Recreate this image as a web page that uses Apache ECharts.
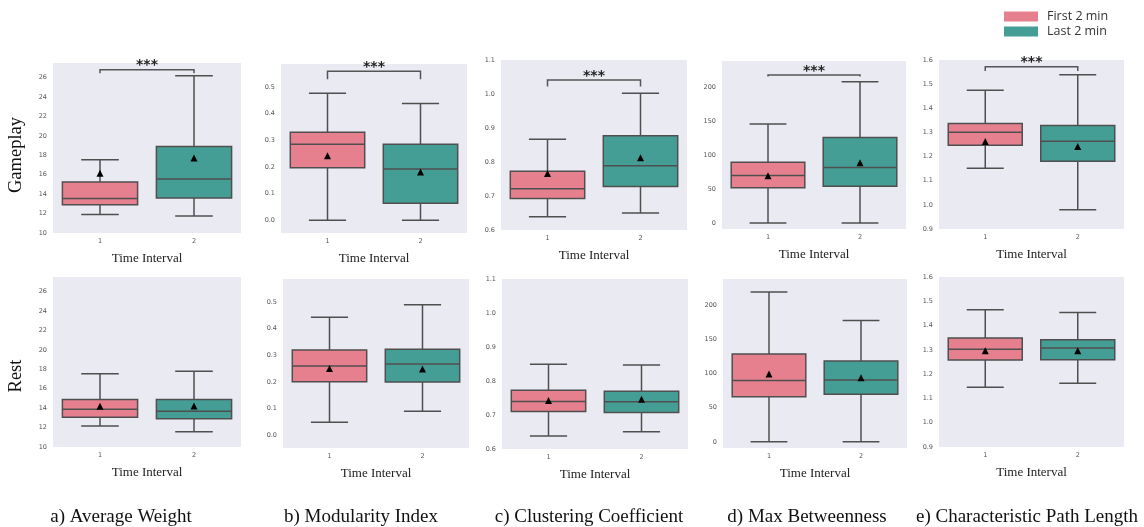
<!DOCTYPE html>
<html><head><meta charset="utf-8">
<script src="https://cdn.jsdelivr.net/npm/echarts@6/dist/echarts.min.js"></script>
<style>html,body{margin:0;padding:0;background:#fff}#chart{width:1144px;height:527px}</style>
</head><body><div id="chart"></div>
<script>
const categories = ['1', '2'];
const legendNames = ['First 2 min', 'Last 2 min'];
const rowNames = ['Gameplay', 'Rest'];
const panelTitles = ['a) Average Weight', 'b) Modularity Index', 'c) Clustering Coefficient', 'd) Max Betweenness', 'e) Characteristic Path Length'];
const axisTitle = 'Time Interval';
const sigText = '***';

// [whisker low, Q1, median, Q3, whisker high] for time intervals 1 and 2
const gameplayAvgWeight = [[11.9, 12.9, 13.55, 15.25, 17.55], [11.75, 13.6, 15.57, 18.9, 26.2]];
const gameplayAvgWeightMean = [16.15, 17.73];
const gameplayModularity = [[0, 0.1975, 0.285, 0.331, 0.4775], [0, 0.064, 0.1925, 0.285, 0.439]];
const gameplayModularityMean = [0.2425, 0.181];
const gameplayClustering = [[0.639, 0.693, 0.7216, 0.7725, 0.8667], [0.65, 0.728, 0.789, 0.8775, 1.002]];
const gameplayClusteringMean = [0.766, 0.8127];
const gameplayBetweenness = [[0, 51.8, 69.9, 89.5, 145.7], [0, 53.8, 81.7, 125.7, 207.8]];
const gameplayBetweennessMean = [69.4, 88.5];
const gameplayPathLength = [[1.152, 1.2473, 1.301, 1.3368, 1.4746], [0.98, 1.1811, 1.2638, 1.3286, 1.539]];
const gameplayPathLengthMean = [1.2624, 1.2417];

const restAvgWeight = [[12.15, 13.07, 13.89, 14.88, 17.54], [11.57, 12.9, 13.68, 14.88, 17.81]];
const restAvgWeightMean = [14.2, 14.23];
const restModularity = [[0.049, 0.201, 0.26, 0.32, 0.4435], [0.0905, 0.1997, 0.2676, 0.323, 0.49]];
const restModularityMean = [0.251, 0.2487];
const restClustering = [[0.638, 0.71, 0.74, 0.7725, 0.849], [0.651, 0.707, 0.739, 0.7696, 0.847]];
const restClusteringMean = [0.743, 0.746];
const restBetweenness = [[0, 65.9, 89.8, 128.8, 219.5], [0, 69.8, 90.7, 118.5, 177.6]];
const restBetweennessMean = [99.5, 93.7];
const restPathLength = [[1.146, 1.2582, 1.302, 1.3485, 1.4647], [1.1625, 1.2596, 1.3074, 1.3416, 1.4537]];
const restPathLengthMean = [1.2965, 1.2965];

// significance bracket (gameplay row): level and end-tick level
const sigLevel = [26.8, 0.56, 1.041, 218, 1.5725];
const sigEnd = [26.45, 0.53, 1.022, 215.5, 1.5545];

// y axis ranges per column
const yMin = [10, -0.048, 0.6, -9, 0.9];
const yMax = [27.5, 0.587, 1.1, 238.5, 1.6];
const yStep = [2, 0.1, 0.1, 50, 0.1];
const yDecimals = [0, 1, 1, 0, 1];

const boxes = [gameplayAvgWeight, gameplayModularity, gameplayClustering, gameplayBetweenness, gameplayPathLength,
               restAvgWeight, restModularity, restClustering, restBetweenness, restPathLength];
const means = [gameplayAvgWeightMean, gameplayModularityMean, gameplayClusteringMean, gameplayBetweennessMean, gameplayPathLengthMean,
               restAvgWeightMean, restModularityMean, restClusteringMean, restBetweennessMean, restPathLengthMean];

// layout
const gridRects = [
  [53, 63, 188, 170], [281, 64, 186, 169], [501, 60, 186, 170], [722, 61, 184, 168], [939, 60, 185, 169],
  [53, 277, 188, 170], [283, 279, 186, 169], [502, 279, 186, 170], [723, 279, 184, 169], [939, 277, 185, 170]
];
const captionX = [121, 361, 589, 807, 1027];
const COLORS = ['#E6808F', '#459E96'];
const EDGE = '#4f4f4f';

function renderBox(params, api) {
  const i = api.value(0);
  const lo = api.coord([i, api.value(1)]);
  const q1 = api.coord([i, api.value(2)]);
  const md = api.coord([i, api.value(3)]);
  const q3 = api.coord([i, api.value(4)]);
  const hi = api.coord([i, api.value(5)]);
  const w = api.size([1, 0])[0] * 0.8;
  const cx = lo[0];
  const ls = {stroke: EDGE, lineWidth: 1.5};
  return {type: 'group', children: [
    {type: 'line', shape: {x1: cx, y1: q3[1], x2: cx, y2: hi[1]}, style: ls},
    {type: 'line', shape: {x1: cx, y1: q1[1], x2: cx, y2: lo[1]}, style: ls},
    {type: 'line', shape: {x1: cx - w / 4, y1: hi[1], x2: cx + w / 4, y2: hi[1]}, style: ls},
    {type: 'line', shape: {x1: cx - w / 4, y1: lo[1], x2: cx + w / 4, y2: lo[1]}, style: ls},
    {type: 'rect', shape: {x: cx - w / 2, y: q3[1], width: w, height: q1[1] - q3[1]}, style: {fill: COLORS[i], stroke: EDGE, lineWidth: 1.5}},
    {type: 'line', shape: {x1: cx - w / 2, y1: md[1], x2: cx + w / 2, y2: md[1]}, style: ls}
  ]};
}

function renderSig(params, api) {
  const a = api.coord([api.value(0), api.value(2)]);
  const b = api.coord([api.value(1), api.value(2)]);
  const ae = api.coord([api.value(0), api.value(3)]);
  const be = api.coord([api.value(1), api.value(3)]);
  return {type: 'group', children: [
    {type: 'polyline', shape: {points: [[ae[0], ae[1]], [a[0], a[1]], [b[0], b[1]], [be[0], be[1]]]},
     style: {stroke: '#555', lineWidth: 1.5, fill: null}},
    {type: 'text', x: (a[0] + b[0]) / 2, y: a[1] + 3,
     style: {text: sigText, font: 'bold 14px "DejaVu Sans"', fill: '#222', align: 'center', verticalAlign: 'bottom'}}
  ]};
}

const grid = [], xAxis = [], yAxis = [], series = [];
gridRects.forEach((r, k) => {
  const col = k % 5;
  grid.push({left: r[0], top: r[1], width: r[2], height: r[3], show: true, backgroundColor: '#EAEAF2', borderWidth: 0});
  xAxis.push({gridIndex: k, type: 'category', data: categories,
    axisLine: {show: false}, axisTick: {show: false}, splitLine: {show: false},
    axisLabel: {fontSize: 6.5, color: '#555', margin: 5, fontFamily: 'DejaVu Sans'},
    name: axisTitle, nameLocation: 'middle', nameGap: 19,
    nameTextStyle: {fontFamily: 'Liberation Serif', fontSize: 13, color: '#222'}});
  const step = yStep[col], dec = yDecimals[col];
  yAxis.push({gridIndex: k, type: 'value', min: yMin[col], max: yMax[col], minInterval: step, maxInterval: step,
    axisLine: {show: false}, axisTick: {show: false}, splitLine: {show: false},
    axisLabel: {fontSize: 6.5, color: '#555', margin: 6, fontFamily: 'DejaVu Sans',
      formatter: v => { const q = v / step; if (Math.abs(q - Math.round(q)) > 1e-6) return ''; return (Math.round(q) * step).toFixed(dec); }}});
  series.push({type: 'custom', xAxisIndex: k, yAxisIndex: k, renderItem: renderBox, silent: true,
    encode: {x: 0, y: [1, 2, 3, 4, 5]},
    data: boxes[k].map((b, i) => [i].concat(b))});
  series.push({type: 'scatter', xAxisIndex: k, yAxisIndex: k, symbol: 'triangle', symbolSize: 7, silent: true, z: 5,
    itemStyle: {color: '#000', opacity: 1}, data: means[k].map((m, i) => [i, m])});
  if (k < 5) {
    series.push({type: 'custom', xAxisIndex: k, yAxisIndex: k, renderItem: renderSig, silent: true, clip: false,
      encode: {x: [0, 1], y: [2, 3]}, data: [[0, 1, sigLevel[col], sigEnd[col]]]});
  }
});
legendNames.forEach((n, i) => series.push({type: 'scatter', name: n, data: [], xAxisIndex: 0, yAxisIndex: 0,
  itemStyle: {color: COLORS[i], opacity: 1}}));

const graphic = [];
[[rowNames[0], 155], [rowNames[1], 376]].forEach(([t, y]) => graphic.push({type: 'text', x: 16, y: y, rotation: Math.PI / 2,
  style: {text: t, font: '18.5px "Liberation Serif"', fill: '#111', align: 'center', verticalAlign: 'middle'}}));
panelTitles.forEach((t, i) => graphic.push({type: 'text', x: captionX[i], y: 517,
  style: {text: t, font: '19px "Liberation Serif"', fill: '#111', align: 'center', verticalAlign: 'middle'}}));

const chart = echarts.init(document.getElementById('chart'), null, {renderer: 'canvas'});
chart.setOption({
  animation: false,
  backgroundColor: '#fff',
  legend: {orient: 'vertical', left: 1004, top: 10, padding: 0, itemWidth: 34, itemHeight: 10, itemGap: 2, icon: 'rect', selectedMode: false,
    textStyle: {fontFamily: 'Open Sans', fontSize: 12.5, color: '#333', padding: [0, 0, 0, 4]}, data: legendNames},
  grid, xAxis, yAxis, series, graphic
});
</script></body></html>
